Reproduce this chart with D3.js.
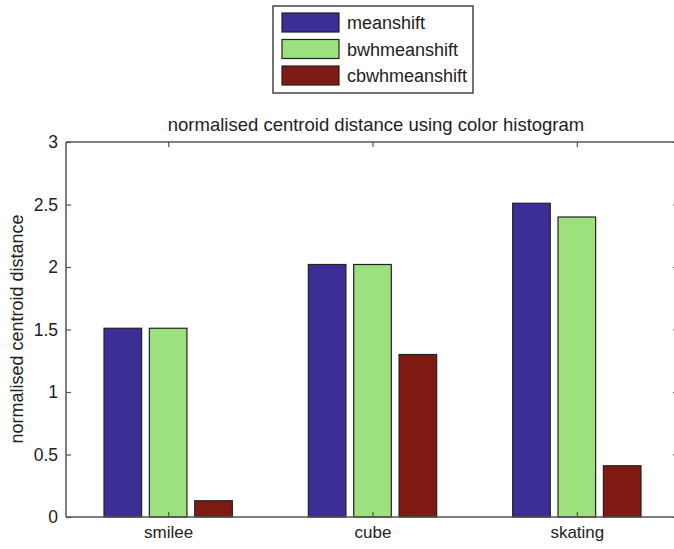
<!DOCTYPE html>
<html>
<head>
<meta charset="utf-8">
<script src="https://cdn.jsdelivr.net/npm/d3@7"></script>
<style>
  body { margin: 0; background: #fff; }
  svg { display: block; font-family: "Liberation Sans", Arial, sans-serif; }
</style>
</head>
<body>
<div id="chart"></div>
<script>
// values
var categories = ["smilee", "cube", "skating"];
var seriesNames = ["meanshift", "bwhmeanshift", "cbwhmeanshift"];
var meanshift = [1.51, 2.02, 2.51];
var bwhmeanshift = [1.51, 2.02, 2.40];
var cbwhmeanshift = [0.13, 1.30, 0.41];
var yTicks = [0, 0.5, 1, 1.5, 2, 2.5, 3];
var colors = ["#3b2e96", "#9de07e", "#7f1a12"];

var series = [meanshift, bwhmeanshift, cbwhmeanshift];

var width = 674, height = 549;
var plotLeft = 66, plotTop = 142, plotBottom = 517, plotRight = 679;

var svg = d3.select("#chart").append("svg")
  .attr("width", width)
  .attr("height", height);

// matlab-like bar positions: categories at 1..3, xlim [0.5, 3.5]
var x = d3.scaleLinear().domain([0.5, 3.5]).range([plotLeft, plotRight]);
var y = d3.scaleLinear().domain([0, 3]).range([plotBottom, plotTop]);

var barOffset = 0.222;               // offset between bars, in data units
var barWidth = 0.184;

// bars
series.forEach(function(vals, s) {
  svg.selectAll(".bar" + s)
    .data(vals)
    .enter().append("rect")
    .attr("x", function(d, i) { return x(i + 1 + (s - 1) * barOffset - barWidth / 2); })
    .attr("width", x(barWidth) - x(0))
    .attr("y", function(d) { return y(d); })
    .attr("height", function(d) { return y(0) - y(d); })
    .attr("fill", colors[s])
    .attr("stroke", "#222")
    .attr("stroke-width", 1.2);
});

// frame
var frame = "#555";
function frameLine(x1, y1, x2, y2) {
  svg.append("line").attr("x1", x1).attr("x2", x2).attr("y1", y1).attr("y2", y2)
    .attr("stroke", frame).attr("stroke-width", 1.5);
}
frameLine(plotLeft, plotTop, plotRight, plotTop);
frameLine(plotLeft, plotBottom, plotRight, plotBottom);
frameLine(plotLeft, plotTop, plotLeft, plotBottom);
frameLine(plotRight, plotTop, plotRight, plotBottom);

// y axis (ticks inside)
var yAxis = d3.axisLeft(y).tickValues(yTicks).tickSize(-5).tickPadding(8)
  .tickFormat(function(d) { return d; });
var gy = svg.append("g").attr("transform", "translate(" + plotLeft + ",0)").call(yAxis);
gy.select(".domain").remove();
gy.selectAll(".tick line").attr("stroke", frame).attr("stroke-width", 1.2);
gy.selectAll(".tick text").attr("font-size", 17.5).attr("fill", "#222")
  .attr("font-family", "Liberation Sans, Arial, sans-serif");

// right side ticks
var gr = svg.append("g").attr("transform", "translate(" + plotRight + ",0)")
  .call(d3.axisRight(y).tickValues(yTicks).tickSize(-6).tickFormat(""));
gr.select(".domain").remove();
gr.selectAll(".tick line").attr("stroke", frame).attr("stroke-width", 1.2);

// x axis (bottom labels, ticks inside)
var xAxis = d3.axisBottom(x).tickValues([1, 2, 3]).tickSize(-5).tickPadding(9)
  .tickFormat(function(d) { return categories[d - 1]; });
var gx = svg.append("g").attr("transform", "translate(0," + plotBottom + ")").call(xAxis);
gx.select(".domain").remove();
gx.selectAll(".tick line").attr("stroke", frame).attr("stroke-width", 1.2);
gx.selectAll(".tick text").attr("font-size", 17).attr("fill", "#222")
  .attr("font-family", "Liberation Sans, Arial, sans-serif");

// top ticks
var gt = svg.append("g").attr("transform", "translate(0," + plotTop + ")")
  .call(d3.axisTop(x).tickValues([1, 2, 3]).tickSize(-5).tickFormat(""));
gt.select(".domain").remove();
gt.selectAll(".tick line").attr("stroke", frame).attr("stroke-width", 1.2);

// title
svg.append("text")
  .attr("x", 376)
  .attr("y", 131)
  .attr("text-anchor", "middle")
  .attr("font-size", 18.5)
  .attr("fill", "#222")
  .text("normalised centroid distance using color histogram");

// y label
svg.append("text")
  .attr("transform", "translate(23,329) rotate(-90)")
  .attr("text-anchor", "middle")
  .attr("font-size", 18)
  .attr("fill", "#222")
  .text("normalised centroid distance");

// legend
var legend = svg.append("g").attr("transform", "translate(273,6)");
legend.append("rect")
  .attr("width", 200).attr("height", 87)
  .attr("fill", "#fff").attr("stroke", "#444").attr("stroke-width", 1.5);
seriesNames.forEach(function(name, i) {
  var row = legend.append("g").attr("transform", "translate(9," + (7 + i * 26.5) + ")");
  row.append("rect")
    .attr("width", 57).attr("height", 19)
    .attr("fill", colors[i]).attr("stroke", "#222").attr("stroke-width", 1.2);
  row.append("text")
    .attr("x", 65).attr("y", 16)
    .attr("font-size", 18)
    .attr("fill", "#222")
    .text(name);
});
</script>
</body>
</html>
